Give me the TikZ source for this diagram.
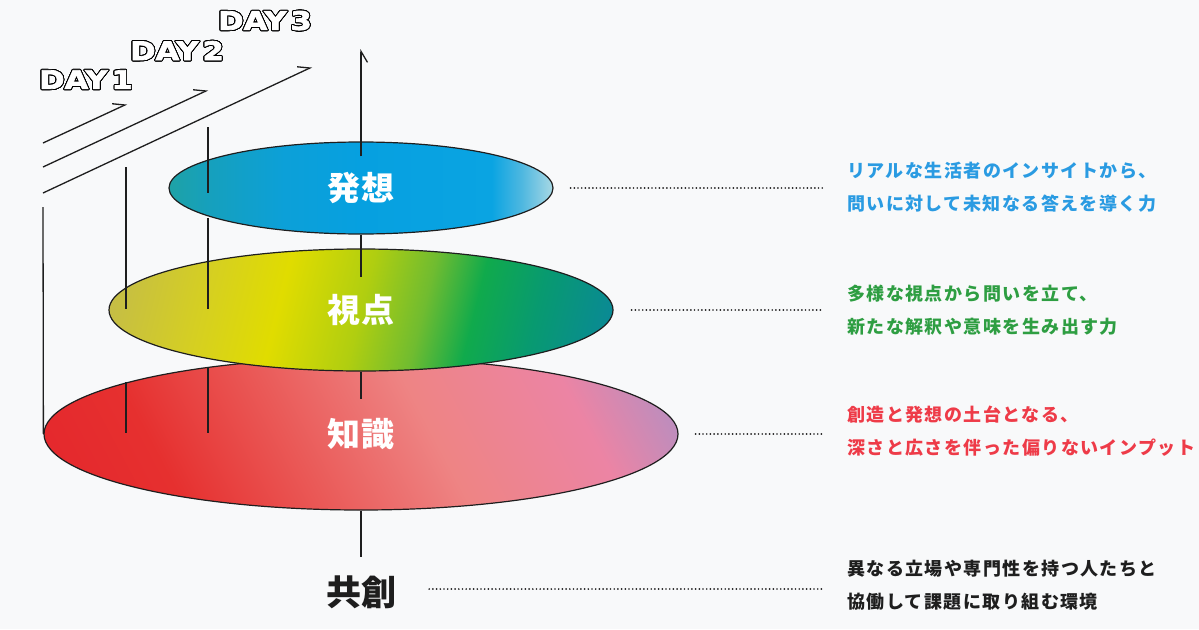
\documentclass[tikz,border=0pt]{standalone}
\usepackage{fontspec}
\usepackage{contour}
\usetikzlibrary{shapes.geometric,arrows.meta,calc}
\newfontfamily\jpl[LetterSpace=8]{Noto Sans CJK JP}
\newfontfamily\jpk[LetterSpace=6]{Noto Sans CJK JP}
\newfontfamily\jp{Noto Sans CJK JP}
\newfontfamily\dayfont[FakeStretch=1.2, UprightFeatures={FakeBold=3}, BoldFeatures={FakeBold=3}]{DejaVu Sans}
\contourlength{0.9pt}
\contournumber{32}
\definecolor{bluetxt}{HTML}{2A9BE2}
\definecolor{greentxt}{HTML}{2E9E42}
\definecolor{redtxt}{HTML}{EE3B48}
\definecolor{bgc}{HTML}{F8F9FA}
\definecolor{inkc}{HTML}{1E1E1E}
\pgfdeclarehorizontalshading{hassoShade}{100bp}{
  color(0bp)=(rgb,255:red,30;green,162;blue,166);
  color(25bp)=(rgb,255:red,30;green,162;blue,166);
  color(30bp)=(rgb,255:red,22;green,160;blue,188);
  color(40bp)=(rgb,255:red,12;green,160;blue,216);
  color(50bp)=(rgb,255:red,6;green,160;blue,224);
  color(67bp)=(rgb,255:red,10;green,164;blue,226);
  color(71bp)=(rgb,255:red,80;green,184;blue,224);
  color(75bp)=(rgb,255:red,168;green,216;blue,228);
  color(100bp)=(rgb,255:red,168;green,216;blue,228)}
\pgfdeclarehorizontalshading{shitenShade}{100bp}{
  color(0bp)=(rgb,255:red,196;green,188;blue,72);
  color(25bp)=(rgb,255:red,196;green,188;blue,72);
  color(35bp)=(rgb,255:red,214;green,208;blue,32);
  color(42bp)=(rgb,255:red,224;green,220;blue,0);
  color(50bp)=(rgb,255:red,176;green,206;blue,16);
  color(56bp)=(rgb,255:red,112;green,188;blue,48);
  color(61bp)=(rgb,255:red,16;green,170;blue,76);
  color(67bp)=(rgb,255:red,8;green,154;blue,112);
  color(75bp)=(rgb,255:red,10;green,136;blue,152);
  color(100bp)=(rgb,255:red,10;green,136;blue,152)}
\pgfdeclarehorizontalshading{chishikiShade}{100bp}{
  color(0bp)=(rgb,255:red,228;green,38;blue,44);
  color(25bp)=(rgb,255:red,228;green,38;blue,44);
  color(35bp)=(rgb,255:red,230;green,48;blue,47);
  color(45bp)=(rgb,255:red,234;green,90;blue,88);
  color(55bp)=(rgb,255:red,238;green,132;blue,132);
  color(66bp)=(rgb,255:red,236;green,132;blue,164);
  color(73bp)=(rgb,255:red,184;green,142;blue,192);
  color(76bp)=(rgb,255:red,168;green,144;blue,200);
  color(100bp)=(rgb,255:red,168;green,144;blue,200)}
\begin{document}
\begin{tikzpicture}[x=1pt,y=-1pt,
  ell/.style={ellipse, draw=inkc, line width=1.2pt, inner sep=0pt, text=white,
    font=\jpk\bfseries\fontsize{33}{33}\selectfont},
  desc/.style={anchor=west, align=left, inner sep=0pt,
    font=\jpl\bfseries\fontsize{18}{33}\selectfont},
  leader/.style={draw=inkc, line width=1.9pt, line cap=round, dash pattern=on 0pt off 3.7pt},
  axis/.style={draw=inkc, line width=1.3pt},
  dayarrow/.style={draw=inkc, line width=1.3pt, -{Straight Barb[harpoon, length=11pt, width=13pt]}},
  daylbl/.style={inner sep=0pt, text=white, font=\dayfont\bfseries\fontsize{25.5}{25.5}\selectfont}
]
\useasboundingbox (0,0) rectangle (1199,629);
\fill[bgc] (0,0) rectangle (1199,629);

% ellipses
\node[ell, minimum width=634pt, minimum height=152pt,
  path picture={\shade[shading=chishikiShade, shading angle=28]
    ($(path picture bounding box.center)+(-317,-317)$) rectangle ($(path picture bounding box.center)+(317,317)$);}]
  (chishiki) at (361,434) {知識};
\node[ell, minimum width=504pt, minimum height=122pt,
  path picture={\shade[shading=shitenShade, shading angle=-14]
    ($(path picture bounding box.center)+(-252,-252)$) rectangle ($(path picture bounding box.center)+(252,252)$);}]
  (shiten) at (361,310) {視点};
\node[ell, minimum width=384pt, minimum height=92pt,
  path picture={\shade[shading=hassoShade]
    ($(path picture bounding box.center)+(-192,-192)$) rectangle ($(path picture bounding box.center)+(192,192)$);}]
  (hasso) at (361,188) {発想};

\node[inner sep=0pt, text=inkc, font=\jp\bfseries\fontsize{35}{35}\selectfont] (kyoso) at (361,592) {共創};

% central axis
\coordinate (axtop) at (361,49);
\coordinate (axbot) at (361,557);
\draw[axis, -{Straight Barb[harpoon, swap, length=11pt, width=13pt]}] ($(hasso.north)+(0,15)$) -- (axtop);
\draw[axis] (hasso.south) -- ($(shiten.north)+(0,29)$);
\draw[axis] (shiten.south) -- ($(chishiki.north)+(0,42)$);
\draw[axis] (chishiki.south) -- (axbot);

% DAY arrows
\coordinate (a1s) at (43,143); \coordinate (a1e) at (127,104);
\coordinate (a2s) at (43,167); \coordinate (a2e) at (208,90);
\coordinate (a3s) at (43,193); \coordinate (a3e) at (312,67);
\draw[dayarrow] (a1s) -- (a1e);
\draw[dayarrow] (a2s) -- (a2e);
\draw[dayarrow] (a3s) -- (a3e);

\node[daylbl] (day1) at (86,80) {\contour{black}{DAY\kern4pt 1}};
\node[daylbl] (day2) at (177,51) {\contour{black}{DAY\kern4pt 2}};
\node[daylbl] (day3) at (265,21) {\contour{black}{DAY\kern4pt 3}};

% vertical DAY lines
\coordinate (v1a) at (43,207);
\draw[axis] (v1a) -- (chishiki.west);
\coordinate (v2a) at (126,167); \coordinate (v2b) at (126,309);
\coordinate (v2c) at (126,382); \coordinate (v2d) at (126,433);
\draw[axis] (v2a) -- (v2b);
\draw[axis] (v2c) -- (v2d);
\coordinate (v3a) at (208,127); \coordinate (v3b) at (208,193);
\coordinate (v3c) at (208,218); \coordinate (v3d) at (208,309);
\coordinate (v3e) at (208,367); \coordinate (v3f) at (208,433);
\draw[axis] (v3a) -- (v3b);
\draw[axis] (v3c) -- (v3d);
\draw[axis] (v3e) -- (v3f);

% descriptions
\node[desc, text=bluetxt] (d1) at (847,187) {リアルな生活者のインサイトから、\\問いに対して未知なる答えを導く力};
\node[desc, text=greentxt] (d2) at (847,310) {多様な視点から問いを立て、\\新たな解釈や意味を生み出す力};
\node[desc, text=redtxt] (d3) at (847,431) {創造と発想の土台となる、\\深さと広さを伴った偏りないインプット};
\node[desc, text=inkc] (d4) at (847,585) {異なる立場や専門性を持つ人たちと\\協働して課題に取り組む環境};

% leaders
\draw[leader] ($(hasso.east)+(17,0)$) -- ($(hasso.east -| d1.west)+(-24,0)$);
\draw[leader] ($(shiten.east)+(18,0)$) -- ($(shiten.east -| d2.west)+(-24,0)$);
\draw[leader] ($(chishiki.east)+(17,0)$) -- ($(chishiki.east -| d3.west)+(-24,0)$);
\draw[leader] ($(kyoso.east)+(33,-3)$) -- ($(kyoso.east -| d4.west)+(-24,-3)$);
\end{tikzpicture}
\end{document}
